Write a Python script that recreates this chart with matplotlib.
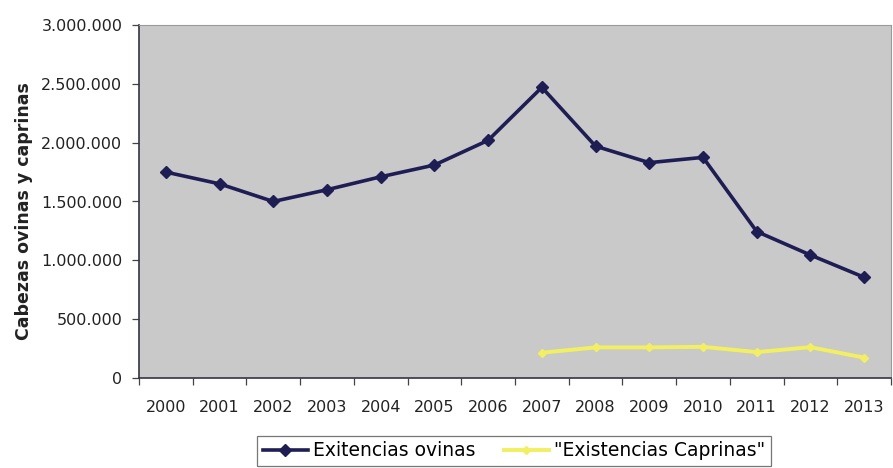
import matplotlib
matplotlib.use("Agg")
import matplotlib.pyplot as plt
from matplotlib.ticker import FuncFormatter, FixedLocator
import numpy as np

years = ["2000", "2001", "2002", "2003", "2004", "2005", "2006",
         "2007", "2008", "2009", "2010", "2011", "2012", "2013"]
ovinas = [1750000, 1650000, 1500000, 1600000, 1710000, 1810000, 2020000,
          2470000, 1970000, 1830000, 1875000, 1245000, 1045000, 856000]
caprinas_years = ["2007", "2008", "2009", "2010", "2011", "2012", "2013"]
caprinas = [215000, 260000, 260000, 265000, 220000, 262000, 173000]
yticks = [0, 500000, 1000000, 1500000, 2000000, 2500000, 3000000]

plt.rcParams['font.family'] = ['DejaVu Sans']

fig = plt.figure(figsize=(8.93, 4.68), dpi=100)
ax = fig.add_axes([139/893, 1-378/468, (891-139)/893, (378-25)/468])
ax.set_facecolor('#c9c9c9')

x = np.arange(len(years))
xc = [years.index(y) for y in caprinas_years]

l1, = ax.plot(x, ovinas, color='#1e1e55', lw=2.6, marker='D', ms=6.5,
              label='Exitencias ovinas')
l2, = ax.plot(xc, caprinas, color='#f2f060', lw=2.8, marker='D', ms=4.5,
              label='"Existencias Caprinas"')

ax.set_xlim(-0.5, len(years) - 0.5)
ax.set_ylim(0, 3000000)
ax.set_yticks(yticks)
ax.yaxis.set_major_formatter(FuncFormatter(lambda v, p: f"{int(v):,}".replace(",", ".")))
ax.set_xticks(x)
ax.set_xticklabels(years)
ax.xaxis.set_minor_locator(FixedLocator(np.arange(-0.5, len(years), 1.0)))
ax.tick_params(axis='x', which='major', length=0, pad=16, labelsize=11.5, colors='#222222')
ax.tick_params(axis='x', which='minor', length=5, width=0.9, color='#444444')
ax.tick_params(axis='y', length=5, width=0.9, labelsize=11.5, color='#444444', labelcolor='#222222', pad=7)

for s in ['left', 'bottom']:
    ax.spines[s].set_color('#333344')
    ax.spines[s].set_linewidth(1.2)
for s in ['top', 'right']:
    ax.spines[s].set_color('#9a9a9a')
    ax.spines[s].set_linewidth(0.8)

ax.set_ylabel('Cabezas ovinas y caprinas', fontsize=12.5, fontweight='bold',
              color='#222222')
ax.yaxis.set_label_coords((33-139)/752, 0.473)

leg = fig.legend(handles=[l1, l2], loc='center', bbox_to_anchor=(514/893, 1-451/468),
                 ncol=2, frameon=True, fancybox=False, fontsize=13.5,
                 handlelength=2.4, handletextpad=0.3, columnspacing=1.5,
                 borderpad=0.3, edgecolor='#555555')
leg.get_frame().set_linewidth(0.9)

fig.savefig('out.png', dpi=100, facecolor='white')
